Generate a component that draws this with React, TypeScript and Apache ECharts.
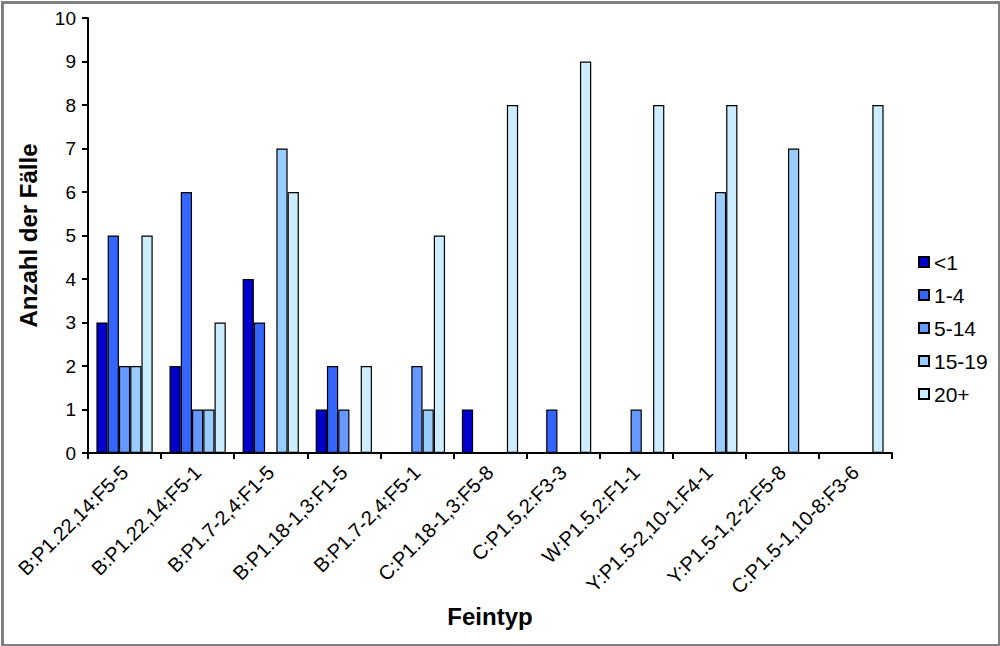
import React, { useEffect, useRef } from "react";
import * as echarts from "echarts";

const categories = [
  "B:P1.22,14:F5-5",
  "B:P1.22,14:F5-1",
  "B:P1.7-2,4:F1-5",
  "B:P1.18-1,3:F1-5",
  "B:P1.7-2,4:F5-1",
  "C:P1.18-1,3:F5-8",
  "C:P1.5,2:F3-3",
  "W:P1.5,2:F1-1",
  "Y:P1.5-2,10-1:F4-1",
  "Y:P1.5-1,2-2:F5-8",
  "C:P1.5-1,10-8:F3-6",
];

const seriesNames = ["<1", "1-4", "5-14", "15-19", "20+"];
const lt1 = [3, 2, 4, 1, 0, 1, 0, 0, 0, 0, 0];
const v1to4 = [5, 6, 3, 2, 0, 0, 1, 0, 0, 0, 0];
const v5to14 = [2, 1, 0, 1, 2, 0, 0, 1, 0, 0, 0];
const v15to19 = [2, 1, 7, 0, 1, 0, 0, 0, 6, 7, 0];
const v20plus = [5, 3, 6, 2, 5, 8, 9, 8, 8, 0, 8];
const seriesValues = [lt1, v1to4, v5to14, v15to19, v20plus];
const colors = ["#0000CC", "#3366FF", "#6699FF", "#99CCFF", "#CCECFF"];

const FONT = "Liberation Sans, Arial, sans-serif";

export default function App() {
  const ref = useRef<HTMLDivElement>(null);
  useEffect(() => {
    document.body.style.margin = "0";
    const chart = echarts.init(ref.current!, null, { renderer: "svg" });
    chart.setOption({
      animation: false,
      backgroundColor: "#ffffff",
      textStyle: { fontFamily: FONT },
      grid: { left: 88, right: 108, top: 18, bottom: 193, containLabel: false },
      legend: {
        orient: "vertical",
        left: 913,
        top: 246,
        itemWidth: 10,
        itemHeight: 10,
        itemGap: 11,
        icon: "rect",
        textStyle: { fontSize: 21, color: "#000", fontFamily: FONT, lineHeight: 22 },
        data: seriesNames,
      },
      xAxis: {
        type: "category",
        data: categories,
        boundaryGap: true,
        name: "Feintyp",
        nameLocation: "middle",
        nameGap: 150,
        nameTextStyle: { fontSize: 24, fontWeight: "bold", color: "#000", fontFamily: FONT },
        axisLine: { lineStyle: { color: "#000", width: 2 } },
        axisTick: { show: true, alignWithLabel: false, length: 6, lineStyle: { color: "#000", width: 2 } },
        axisLabel: { rotate: 45, fontSize: 20, color: "#000", margin: 16, interval: 0, fontFamily: FONT },
        splitLine: { show: false },
      },
      yAxis: {
        type: "value",
        min: 0,
        max: 10,
        interval: 1,
        name: "Anzahl der Fälle",
        nameLocation: "middle",
        nameGap: 48,
        nameTextStyle: { fontSize: 24, fontWeight: "bold", color: "#000", fontFamily: FONT },
        axisLine: { show: true, lineStyle: { color: "#000", width: 2 } },
        axisTick: { show: true, length: 6, lineStyle: { color: "#000", width: 2 } },
        axisLabel: { fontSize: 19, color: "#000", margin: 12, fontFamily: FONT },
        splitLine: { show: false },
      },
      series: seriesNames.map((name, i) => ({
        name,
        type: "bar",
        data: seriesValues[i],
        barGap: "0%",
        barCategoryGap: "23%",
        itemStyle: { color: colors[i], borderColor: "#000", borderWidth: 1.2 },
      })),
      graphic: [
        {
          type: "rect",
          left: 0,
          top: 0,
          shape: { x: 1, y: 1, width: 997, height: 643 },
          style: { fill: "none", stroke: "#808080", lineWidth: 3 },
          silent: true,
        },
      ],
    });
    return () => chart.dispose();
  }, []);
  return <div ref={ref} style={{ width: 1000, height: 646 }} />;
}
